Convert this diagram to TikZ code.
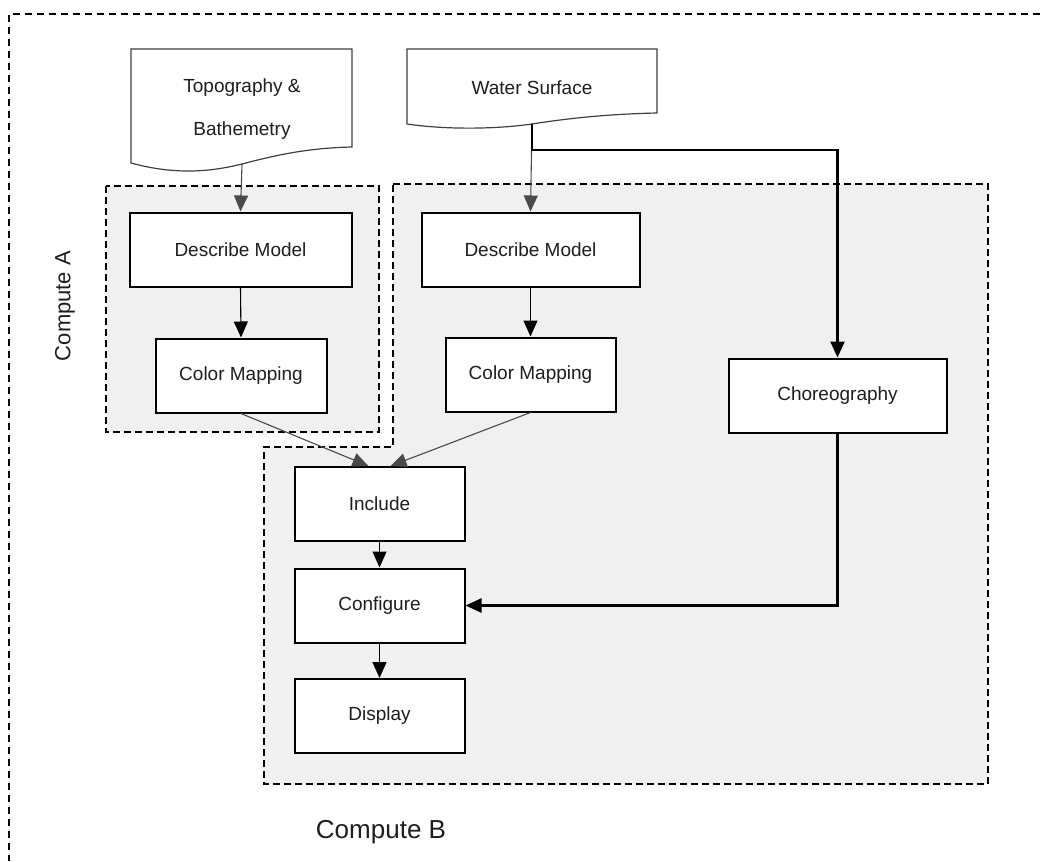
\documentclass[tikz,border=0pt]{standalone}
\usepackage{fontspec}
\setmainfont{Liberation Sans}
\usetikzlibrary{arrows.meta}
\definecolor{txt}{HTML}{1E1E1E}
\definecolor{zone}{HTML}{F0F0F0}
\definecolor{thinline}{HTML}{4A4A4A}
\begin{document}
\begin{tikzpicture}[x=1pt,y=-1pt,
  box/.style={draw=black, line width=2pt, fill=white, rectangle, inner sep=0pt,
    minimum height=74pt, font=\fontsize{19}{22}\selectfont, text=txt},
  doclabel/.style={inner sep=0pt, font=\fontsize{19}{22}\selectfont, text=txt, align=center},
  docshape/.style={draw=black!75, line width=1.2pt, fill=white},
  zonebox/.style={fill=zone, draw=black, line width=2.2pt, dash pattern=on 7pt off 4pt},
  framebox/.style={draw=black, line width=1.8pt, dash pattern=on 7pt off 5pt},
  zonelabel/.style={inner sep=0pt, font=\fontsize{22}{26}\selectfont, text=txt},
  tip/.style={-{Triangle[length=16pt,width=14pt]}},
  thinarrow/.style={tip, draw=black, line width=1.1pt},
  greyarrow/.style={tip, draw=thinline, line width=1.1pt},
  thickarrow/.style={tip, draw=black, line width=2.4pt}
]
\useasboundingbox (0,0) rectangle (1040,861);

% outer frame (only its top and left sides fall inside the page)
\draw[framebox] (1040,14) -- (9,14) -- (9,861);

% shaded computation zones
\draw[zonebox] (106,186) rectangle (379,432);
\draw[zonebox] (393,184) -- (988,184) -- (988,784) -- (264,784) -- (264,447) -- (393,447) -- cycle;

% data sources drawn as document shapes
\draw[docshape] (131,163) -- (131,49) -- (352,49) -- (352,147)
  .. controls (310,148) and (280,154) .. (242,164)
  .. controls (210,172) and (175,175) .. (131,163) -- cycle;
\coordinate (topoout) at (242,164);
\node[doclabel] (topo) at (242,109) {Topography \&\\[21pt]Bathemetry};

\draw[docshape] (407,124) -- (407,49) -- (657,49) -- (657,113)
  .. controls (610,114) and (570,118) .. (532,124)
  .. controls (490,130) and (440,129) .. (407,124) -- cycle;
\coordinate (waterout) at (532,124);
\coordinate (split) at (532,150);
\node[doclabel] (water) at (532,88) {Water Surface};

% processing steps
\node[box, minimum width=222pt] (dmA) at (240.5,249.5) {Describe Model};
\node[box, minimum width=171pt] (cmA) at (241,375.5) {Color Mapping};
\node[box, minimum width=218pt] (dmB) at (530.5,249.5) {Describe Model};
\node[box, minimum width=170pt] (cmB) at (530.5,374.5) {Color Mapping};
\node[box, minimum width=218pt] (chor) at (837.5,395.5) {Choreography};
\node[box, minimum width=170pt] (inc) at (379.5,504) {Include};
\node[box, minimum width=170pt] (conf) at (379.5,605.5) {Configure};
\node[box, minimum width=170pt] (disp) at (379.5,716) {Display};

% zone labels
\node[zonelabel, rotate=90] (labA) at (65,306) {Compute A};
\node[zonelabel, font=\fontsize{26}{30}\selectfont] (labB) at (381,832) {Compute B};

% connectors
\draw[greyarrow] (topoout) -- (dmA.north);
\draw[greyarrow] (waterout) -- (dmB.north);
\draw[thinarrow] (dmA.south) -- (cmA.north);
\draw[thinarrow] (dmB.south) -- (cmB.north);
\draw[greyarrow] (cmA.south) -- ([xshift=-11pt]inc.north);
\draw[greyarrow] (cmB.south) -- ([xshift=11pt]inc.north);
\draw[thinarrow] (inc.south) -- (conf.north);
\draw[thinarrow] (conf.south) -- (disp.north);
\draw[thickarrow] (waterout) -- (split) -| (chor.north);
\draw[thickarrow] (chor.south) |- (conf.east);
\end{tikzpicture}
\end{document}
